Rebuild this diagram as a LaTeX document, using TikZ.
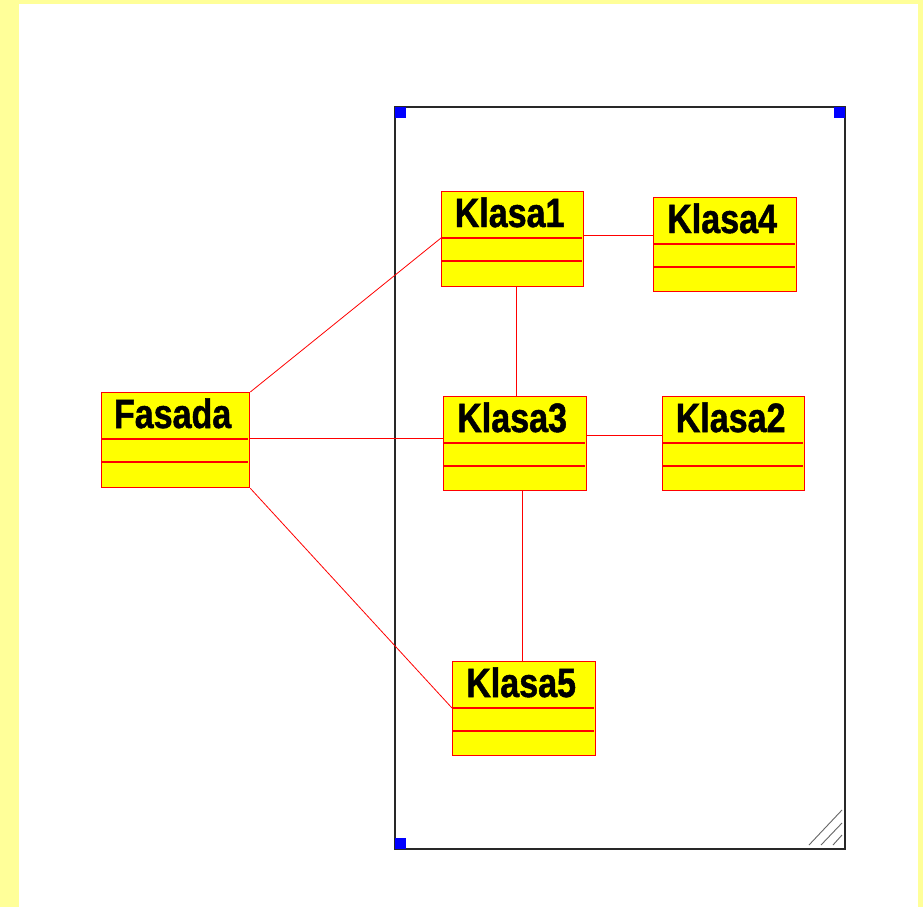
\documentclass[tikz,border=0pt]{standalone}
\usepackage{fontspec}
\newfontfamily\clsfont[FakeStretch=0.83,FakeBold=1.2]{Liberation Sans Bold}
\usetikzlibrary{calc}
\definecolor{bgyellow}{RGB}{255,255,153}
\definecolor{clsred}{RGB}{255,0,0}
\definecolor{clsfill}{RGB}{255,255,0}
\definecolor{cornerblue}{RGB}{0,0,255}
\definecolor{framegray}{RGB}{40,40,40}
\newcommand\umlclass[6]{%
  \node[classbox,minimum width=#4pt,minimum height=#5pt] (#1) at (#2,#3) {};
  \draw[sepline] ($(#1.north west)+(0,47)$) -- ($(#1.north east)+(-2,47)$);
  \draw[sepline] ($(#1.north west)+(0,70)$) -- ($(#1.north east)+(-2,70)$);
  \node[classname] (#1-name) at ($(#1.north)+(-3,36)$) {#6};
}
\begin{document}
\begin{tikzpicture}[x=1pt,y=-1pt,
  classbox/.style={draw=clsred,fill=clsfill,line width=1.3pt,rectangle,inner sep=0pt,anchor=north west},
  sepline/.style={draw=clsred,line width=1.1pt},
  classname/.style={font=\clsfont\fontsize{41}{43}\selectfont,anchor=base,inner sep=0pt,text=black},
  assoc/.style={draw=clsred,line width=0.8pt},
  corner/.style={fill=cornerblue},
  hatch/.style={draw=gray!80!black,line width=0.9pt}]
\useasboundingbox (0,0) rectangle (923,907);
\fill[bgyellow] (0,0) rectangle (923,907);
\fill[white] (19,4) rectangle (918,907);
% package frame
\draw[framegray,line width=1.3pt] (395,107) rectangle (845,849);
\fill[corner] (395,107) rectangle (406,118);
\fill[corner] (834,107) rectangle (845,118);
\fill[corner] (395,838) rectangle (406,849);
\draw[hatch] (809,845) -- (842,810);
\draw[hatch] (821,845) -- (842,823);
\draw[hatch] (833,845) -- (842,835);
% classes
\umlclass{fa}{101}{392}{148}{95}{Fasada}
\umlclass{k1}{441}{191}{142}{95}{Klasa1}
\umlclass{k4}{653}{197}{143}{94}{Klasa4}
\umlclass{k3}{443}{396}{143}{94}{Klasa3}
\umlclass{k2}{662}{396}{142}{94}{Klasa2}
\umlclass{k5}{452}{661}{143}{94}{Klasa5}
% associations
\draw[assoc] (fa.north east) -- ($(k1.north west)+(0,47)$);
\draw[assoc] ($(fa.north east)+(0,46)$) -- ($(k3.north west)+(0,42)$);
\draw[assoc] (fa.south east) -- ($(k5.north west)+(0,47)$);
\draw[assoc] ($(k1.north east)+(0,44)$) -- ($(k4.north west)+(0,38)$);
\draw[assoc] ($(k1.south)+(4,0)$) -- ($(k3.north)+(1.5,0)$);
\draw[assoc] ($(k3.north east)+(0,39)$) -- ($(k2.north west)+(0,39)$);
\draw[assoc] ($(k3.south)+(7.5,0)$) -- ($(k5.north)+(-1.5,0)$);
\end{tikzpicture}
\end{document}
